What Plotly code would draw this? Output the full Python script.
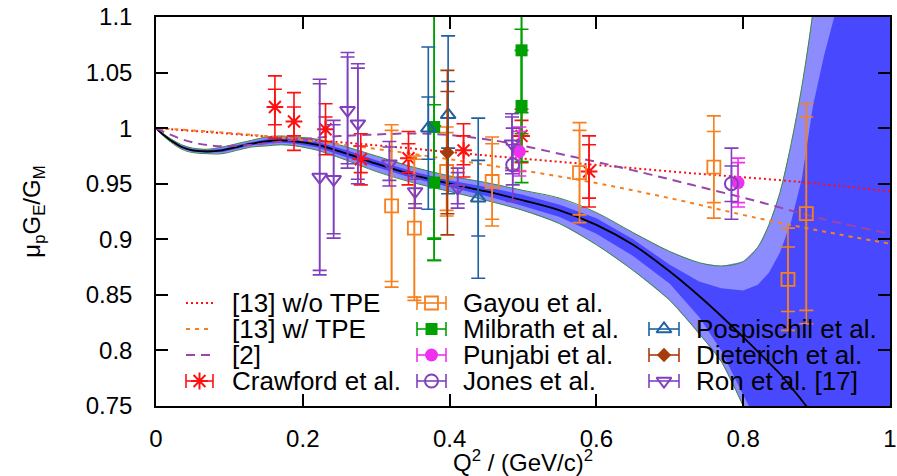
import plotly.graph_objects as go

# ---------------- axes ----------------
x_ticks = [0, 0.2, 0.4, 0.6, 0.8, 1.0]
x_tick_labels = ["0", "0.2", "0.4", "0.6", "0.8", "1"]
y_ticks = [0.75, 0.8, 0.85, 0.9, 0.95, 1.0, 1.05, 1.1]
y_tick_labels = ["0.75", "0.8", "0.85", "0.9", "0.95", "1", "1.05", "1.1"]

# ---------------- fit with error bands ----------------
fit_q = [0, 0.01, 0.02, 0.035, 0.05, 0.07, 0.09, 0.11, 0.13, 0.15, 0.17, 0.19,
         0.22, 0.26, 0.30, 0.35, 0.40, 0.45, 0.50, 0.55, 0.60, 0.65, 0.70, 0.74,
         0.77, 0.80, 0.82, 0.835, 0.85, 0.865, 0.88, 0.895, 0.91, 0.93, 0.96, 1.0]
fit_central = [1.000, 0.994, 0.989, 0.983, 0.980, 0.979, 0.980, 0.983, 0.986, 0.988, 0.989, 0.988,
               0.985, 0.977, 0.968, 0.958, 0.950, 0.943, 0.935, 0.926, 0.913, 0.895, 0.871, 0.849,
               0.831, 0.812, 0.799, 0.789, 0.779, 0.767, 0.755, 0.742, 0.728, 0.710, 0.680, 0.640]
fit_tot_hi = [1.000, 0.995, 0.9905, 0.985, 0.982, 0.981, 0.983, 0.986, 0.989, 0.992, 0.993, 0.992,
              0.990, 0.983, 0.975, 0.965, 0.957, 0.951, 0.944, 0.937, 0.924, 0.906, 0.889, 0.879,
              0.876, 0.880, 0.893, 0.913, 0.942, 0.985, 1.038, 1.105, 1.20, 1.35, 1.60, 2.00]
fit_stat_hi = [1.000, 0.9945, 0.9898, 0.984, 0.981, 0.980, 0.9815, 0.9845, 0.9875, 0.990, 0.991, 0.990,
               0.9875, 0.980, 0.971, 0.961, 0.953, 0.947, 0.940, 0.931, 0.919, 0.900, 0.877, 0.862,
               0.856, 0.854, 0.859, 0.870, 0.888, 0.915, 0.955, 1.020, 1.065, 1.115, 1.25, 1.45]
fit_stat_lo = [1.000, 0.9935, 0.9882, 0.982, 0.979, 0.978, 0.9785, 0.9815, 0.9845, 0.986, 0.987, 0.986,
               0.9825, 0.974, 0.965, 0.955, 0.947, 0.939, 0.930, 0.920, 0.905, 0.885, 0.860, 0.830,
               0.800, 0.760, 0.735, 0.715, 0.690, 0.665, 0.640, 0.610, 0.580, 0.545, 0.490, 0.420]
fit_tot_lo = [1.000, 0.993, 0.9875, 0.981, 0.978, 0.977, 0.977, 0.980, 0.983, 0.984, 0.985, 0.984,
              0.980, 0.971, 0.961, 0.951, 0.943, 0.935, 0.926, 0.914, 0.895, 0.872, 0.845, 0.815,
              0.790, 0.750, 0.722, 0.700, 0.675, 0.650, 0.620, 0.590, 0.560, 0.520, 0.460, 0.380]

# ---------------- theory curves ----------------
wo_tpe_q = [0, 0.1, 0.2, 0.31, 0.44, 0.58, 0.72, 0.87, 1.0]
wo_tpe_val = [1.0, 0.995, 0.990, 0.984, 0.976, 0.968, 0.960, 0.952, 0.943]
w_tpe_q = [0, 0.13, 0.28, 0.44, 0.58, 0.70, 0.82, 0.91, 1.0]
w_tpe_val = [1.0, 0.994, 0.983, 0.968, 0.953, 0.937, 0.919, 0.907, 0.896]
ref2_q = [0, 0.04, 0.08, 0.13, 0.17, 0.23, 0.29, 0.37, 0.46, 0.57, 0.65, 0.73, 0.82, 0.91, 1.0]
ref2_val = [1.0, 0.989, 0.984, 0.985, 0.988, 0.992, 0.994, 0.995, 0.989, 0.974, 0.962, 0.949, 0.934, 0.918, 0.905]

# ---------------- data ----------------
crawford_q = [0.162, 0.188, 0.231, 0.279, 0.344, 0.419, 0.498, 0.590]
crawford_val = [1.019, 1.006, 0.999, 0.972, 0.973, 0.980, 0.993, 0.961]
crawford_stat = [0.016, 0.013, 0.011, 0.012, 0.013, 0.013, 0.014, 0.024]
crawford_tot = [0.028, 0.026, 0.023, 0.023, 0.024, 0.024, 0.024, 0.032]

gayou_q = [0.321, 0.352, 0.396, 0.458, 0.577, 0.760, 0.861, 0.886]
gayou_val = [0.930, 0.910, 0.961, 0.952, 0.960, 0.965, 0.864, 0.923]
gayou_stat = [0.068, 0.062, 0.035, 0.034, 0.038, 0.032, 0.029, 0.087]
gayou_tot = [0.073, 0.065, 0.040, 0.040, 0.045, 0.046, 0.046, 0.099]

milbrath_q = [0.379, 0.379, 0.498, 0.498]
milbrath_val = [1.001, 0.951, 1.070, 1.020]
milbrath_stat = [0.100, 0.051, 0.056, 0.050]
milbrath_tot = [0.120, 0.070, 0.075, 0.069]

punjabi_q = [0.495, 0.793]
punjabi_val = [0.979, 0.951]
punjabi_stat = [0.018, 0.018]
punjabi_tot = [0.022, 0.022]

jones_q = [0.486, 0.784]
jones_val = [0.967, 0.950]
jones_stat = [0.018, 0.016]
jones_tot = [0.033, 0.032]

pospischil_q = [0.371, 0.398, 0.439]
pospischil_val = [1.000, 1.012, 0.937]
pospischil_stat = [0.028, 0.030, 0.034]
pospischil_tot = [0.073, 0.071, 0.072]

dieterich_q = [0.397]
dieterich_val = [0.978]
dieterich_stat = [0.055]
dieterich_tot = [0.074]

ron_q = [0.223, 0.242, 0.261, 0.275, 0.318, 0.353, 0.411, 0.485]
ron_val = [0.956, 0.954, 1.016, 1.004, 0.968, 0.943, 0.946, 0.986]
ron_stat = [0.084, 0.049, 0.048, 0.050, 0.015, 0.011, 0.014, 0.024]
ron_tot = [0.088, 0.053, 0.052, 0.054, 0.020, 0.015, 0.018, 0.027]

# ---------------- styles ----------------
FONT = "Liberation Sans, Arial, Helvetica, sans-serif"
C_RED = "#ff1010"
C_ORANGE = "#f7801e"
C_GREEN = "#00a000"
C_MAGENTA = "#f030f0"
C_PURPLE = "#7f3fbf"
C_BLUE = "#1f60a0"
C_BROWN = "#a63c0c"
C_REF2 = "#9a45a8"
C_LIGHT = "#8c8cff"
C_DARK = "#4848ff"
C_EDGE = "#3c8a3c"

fig = go.Figure()

# bands
fig.add_trace(go.Scatter(x=fit_q + fit_q[::-1], y=fit_tot_hi + fit_tot_lo[::-1],
                         fill="toself", fillcolor=C_LIGHT, line=dict(width=0),
                         mode="lines", hoverinfo="skip", showlegend=False))
fig.add_trace(go.Scatter(x=fit_q + fit_q[::-1], y=fit_stat_hi + fit_stat_lo[::-1],
                         fill="toself", fillcolor=C_DARK, line=dict(width=0),
                         mode="lines", hoverinfo="skip", showlegend=False))
for edge in (fit_tot_hi, fit_tot_lo):
    fig.add_trace(go.Scatter(x=fit_q, y=edge, mode="lines",
                             line=dict(color=C_EDGE, width=1, shape="spline"),
                             hoverinfo="skip", showlegend=False))
fig.add_trace(go.Scatter(x=fit_q, y=fit_central, mode="lines",
                         line=dict(color="black", width=1.8, shape="spline"),
                         showlegend=False))

# theory curves
fig.add_trace(go.Scatter(x=wo_tpe_q, y=wo_tpe_val, mode="lines", showlegend=False,
                         line=dict(color=C_RED, width=2, dash="2px,3px", shape="spline")))
fig.add_trace(go.Scatter(x=w_tpe_q, y=w_tpe_val, mode="lines", showlegend=False,
                         line=dict(color=C_ORANGE, width=2, dash="4px,5px", shape="spline")))
fig.add_trace(go.Scatter(x=ref2_q, y=ref2_val, mode="lines", showlegend=False,
                         line=dict(color=C_REF2, width=2, dash="9px,6px", shape="spline")))


def mk(symbol, size, col, lw=2):
    return dict(symbol=symbol, size=size, color=col, line=dict(color=col, width=lw))


datasets = [
    ("Crawford et al.", crawford_q, crawford_val, crawford_stat, crawford_tot, C_RED,
     mk("asterisk-open", 14, C_RED)),
    ("Gayou et al.", gayou_q, gayou_val, gayou_stat, gayou_tot, C_ORANGE,
     mk("square-open", 13, C_ORANGE, 1.8)),
    ("Milbrath et al.", milbrath_q, milbrath_val, milbrath_stat, milbrath_tot, C_GREEN,
     mk("square", 12, C_GREEN, 0)),
    ("Punjabi et al.", punjabi_q, punjabi_val, punjabi_stat, punjabi_tot, C_MAGENTA,
     mk("circle", 13, C_MAGENTA, 0)),
    ("Jones et al.", jones_q, jones_val, jones_stat, jones_tot, C_PURPLE,
     mk("circle-open", 13, C_PURPLE)),
    ("Pospischil et al.", pospischil_q, pospischil_val, pospischil_stat, pospischil_tot, C_BLUE,
     mk("triangle-up-open", 13, C_BLUE)),
    ("Dieterich et al.", dieterich_q, dieterich_val, dieterich_stat, dieterich_tot, C_BROWN,
     mk("diamond", 11, C_BROWN, 0)),
    ("Ron et al. [17]", ron_q, ron_val, ron_stat, ron_tot, C_PURPLE,
     mk("triangle-down-open", 13, C_PURPLE)),
]

for name, q, v, st, tot, col, marker in datasets:
    fig.add_trace(go.Scatter(x=q, y=v, mode="markers", showlegend=False, hoverinfo="skip",
                             marker=dict(size=1, color="rgba(0,0,0,0)"),
                             error_y=dict(type="data", array=st, color=col, thickness=1.6, width=7)))
    fig.add_trace(go.Scatter(x=q, y=v, mode="markers", name=name, showlegend=False,
                             marker=marker,
                             error_y=dict(type="data", array=tot, color=col, thickness=1.6, width=7)))

# ---------------- page geometry ----------------
WIN_W, WIN_H = 897, 476
PX_L, PX_R, PX_T, PX_B = 156, 890, 17, 406   # plot area in window pixels


def px2paper_x(px):
    return (px - PX_L) / (PX_R - PX_L)


def px2paper_y(py):
    return (PX_B - py) / (PX_B - PX_T)


# ---------------- hand-drawn legend (gnuplot style) ----------------
legend_rows = [303, 329, 355, 381]
legend_cols = [(186, 213, 230), (417, 446, 461), (649, 679, 694)]
legend_entries = [
    (0, 0, "[13] w/o TPE", "line", dict(color=C_RED, width=2, dash="2px,3px"), None),
    (0, 1, "[13] w/ TPE", "line", dict(color=C_ORANGE, width=2, dash="4px,5px"), None),
    (0, 2, "[2]", "line", dict(color=C_REF2, width=2, dash="9px,6px"), None),
    (0, 3, "Crawford et al.", "err", C_RED, datasets[0][6]),
    (1, 0, "Gayou et al.", "err", C_ORANGE, datasets[1][6]),
    (1, 1, "Milbrath et al.", "err", C_GREEN, datasets[2][6]),
    (1, 2, "Punjabi et al.", "err", C_MAGENTA, datasets[3][6]),
    (1, 3, "Jones et al.", "err", C_PURPLE, datasets[4][6]),
    (2, 1, "Pospischil et al.", "err", C_BLUE, datasets[5][6]),
    (2, 2, "Dieterich et al.", "err", C_BROWN, datasets[6][6]),
    (2, 3, "Ron et al. [17]", "err", C_PURPLE, datasets[7][6]),
]
annotations = []
cap_half = 7 / (PX_B - PX_T)
for col, row, label, kind, style, marker in legend_entries:
    x1p, x2p, xt = legend_cols[col]
    x1, x2 = px2paper_x(x1p), px2paper_x(x2p)
    y = px2paper_y(legend_rows[row])
    if kind == "line":
        fig.add_trace(go.Scatter(x=[x1, x2], y=[y, y], mode="lines", line=style,
                                 xaxis="x2", yaxis="y2", showlegend=False, hoverinfo="skip"))
    else:
        fig.add_trace(go.Scatter(x=[x1, x2, None, x1, x1, None, x2, x2],
                                 y=[y, y, None, y - cap_half, y + cap_half, None, y - cap_half, y + cap_half],
                                 mode="lines", line=dict(color=style, width=1.6),
                                 xaxis="x2", yaxis="y2", showlegend=False, hoverinfo="skip"))
        fig.add_trace(go.Scatter(x=[(x1 + x2) / 2], y=[y], mode="markers", marker=marker,
                                 xaxis="x2", yaxis="y2", showlegend=False, hoverinfo="skip"))
    annotations.append(dict(x=px2paper_x(xt), y=y, xref="paper", yref="paper", text=label,
                            showarrow=False, xanchor="left", yanchor="middle",
                            font=dict(family=FONT, size=26, color="black")))

axis_common = dict(showline=True, linecolor="black", linewidth=1.5, mirror="ticks",
                   ticks="inside", ticklen=12, tickwidth=1.5, tickcolor="black",
                   showgrid=False, zeroline=False, automargin=False,
                   ticklabeloverflow="allow",
                   tickfont=dict(family=FONT, size=24, color="black"))

fig.update_layout(
    width=WIN_W, height=WIN_H,
    margin=dict(l=PX_L, r=WIN_W - PX_R, t=PX_T, b=WIN_H - PX_B, autoexpand=False),
    paper_bgcolor="white", plot_bgcolor="white",
    font=dict(family=FONT, size=24, color="black"),
    xaxis=dict(range=[0, 1], tickvals=x_ticks, ticktext=x_tick_labels,
               ticklabelstandoff=10,
               title=dict(text="Q<sup>2</sup> / (GeV/c)<sup>2</sup>", standoff=2,
                          font=dict(family=FONT, size=24)),
               **axis_common),
    yaxis=dict(range=[0.75, 1.1], tickvals=y_ticks, ticktext=y_tick_labels,
               ticklabelstandoff=17,
               title=dict(text="μ<sub>p</sub>G<sub>E</sub>/G<sub>M</sub>", standoff=38,
                          font=dict(family=FONT, size=24)),
               **axis_common),
    xaxis2=dict(range=[0, 1], overlaying="x", visible=False, anchor="y2"),
    yaxis2=dict(range=[0, 1], overlaying="y", visible=False, anchor="x2"),
    annotations=annotations,
    showlegend=False,
)

# remove the browser's default 8px body margin so the figure fills the window exactly
fig.write_html("out.html",
               config={"displayModeBar": False},
               post_script="document.body.style.margin='0';document.body.style.overflow='hidden';")
